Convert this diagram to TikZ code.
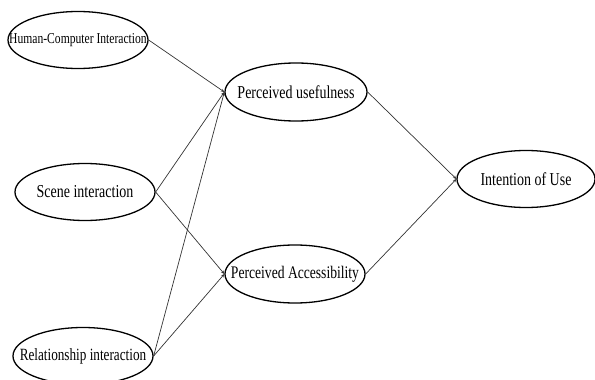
\documentclass[tikz,border=0pt]{standalone}
\usepackage{fontspec}
\setmainfont{Liberation Serif}
\usetikzlibrary{shapes.geometric,arrows.meta}
\begin{document}
\begin{tikzpicture}[x=1pt,y=-1pt,
  construct/.style={draw=black,line width=1.3pt,ellipse,inner sep=0pt,minimum width=140pt,minimum height=57pt},
  lbl/.style={inner sep=0pt,font=\fontsize{14}{16}\selectfont},
  link/.style={draw=black!80,line width=0.7pt,-{Stealth[length=3.5pt,width=3pt]}}]
\useasboundingbox (0,0) rectangle (595,380);
\node[construct] (hci) at (78,40) {};
\node[lbl,font=\fontsize{11.6}{14}\selectfont] at (hci.center) {\scalebox{1}[1.3]{Human-Computer Interaction}};
\node[construct] (scene) at (85,192) {};
\node[lbl] at (scene.center) {\scalebox{1}[1.3]{Scene interaction}};
\node[construct] (rel) at (83,356) {};
\node[lbl,font=\fontsize{13.2}{15}\selectfont] at (rel.center) {\scalebox{1}[1.3]{Relationship interaction}};
\node[construct,minimum width=142pt,minimum height=58pt] (pu) at (296,92) {};
\node[lbl] at (pu.center) {\scalebox{1}[1.3]{Perceived usefulness}};
\node[construct,minimum height=58pt] (pa) at (295,274) {};
\node[lbl,font=\fontsize{13.6}{15}\selectfont] at (pa.center) {\scalebox{1}[1.3]{Perceived Accessibility}};
\node[construct,minimum width=138pt] (iou) at (526,179) {};
\node[lbl] at (iou.center) {\scalebox{1}[1.3]{Intention of Use}};
\draw[link] (hci.east) -- (pu.west);
\draw[link] (scene.east) -- (pu.west);
\draw[link] (scene.east) -- (pa.west);
\draw[link] (rel.east) -- (pu.west);
\draw[link] (rel.east) -- (pa.west);
\draw[link] (pu.east) -- (iou.west);
\draw[link] (pa.east) -- (iou.west);
\end{tikzpicture}
\end{document}
